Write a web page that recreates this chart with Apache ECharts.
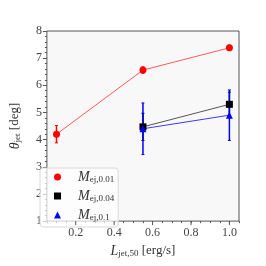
<!DOCTYPE html>
<html><head><meta charset="utf-8">
<script src="https://cdn.jsdelivr.net/npm/echarts@6/dist/echarts.min.js"></script>
<style>html,body{margin:0;padding:0;background:#fff}#c{width:266px;height:266px}</style>
</head><body><div id="c"></div>
<script>
// Data
const redX = [0.1, 0.55, 1.0];
const redY = [4.2, 6.56, 7.38];
const redErr = [0.32, 0.12, 0.1];
const blackX = [0.55, 1.0];
const blackY = [4.47, 5.3];
const blackErr = [0.5, 0.45];
const blueX = [0.55, 1.0];
const blueY = [4.4, 4.9];
const blueErr = [0.95, 0.93];
const xMajorTicks = [0.2, 0.4, 0.6, 0.8, 1.0];
const seriesNames = ['M01', 'M04', 'M1'];
const legendIcons = ['circle', 'rect', 'triangle'];
const legendSubs = {M01: 'ej,0.01', M04: 'ej,0.04', M1: 'ej,0.1'};

const FONT = 'Liberation Serif';
const chart = echarts.init(document.getElementById('c'), null, {renderer: 'canvas'});

function pts(xs, ys) { return xs.map((x, i) => [x, ys[i]]); }
function errData(xs, ys, es) { return xs.map((x, i) => [x, ys[i] - es[i], ys[i] + es[i]]); }
function errSeries(xs, ys, es, color) {
  return {
    type: 'custom', silent: true, z: 3,
    data: errData(xs, ys, es),
    encode: {x: 0, y: [1, 2]},
    renderItem: function (params, api) {
      const a = api.coord([api.value(0), api.value(1)]);
      const b = api.coord([api.value(0), api.value(2)]);
      return {type: 'group', children: [
        {type: 'line', shape: {x1: a[0], y1: a[1], x2: b[0], y2: b[1]}, style: {stroke: color, lineWidth: 1.5}},
        {type: 'line', shape: {x1: a[0] - 1.5, y1: a[1], x2: a[0] + 1.5, y2: a[1]}, style: {stroke: color, lineWidth: 1}},
        {type: 'line', shape: {x1: b[0] - 1.5, y1: b[1], x2: b[0] + 1.5, y2: b[1]}, style: {stroke: color, lineWidth: 1}}
      ]};
    }
  };
}
const richLabel = {
  i: {fontFamily: FONT, fontStyle: 'italic', fontSize: 14, lineHeight: 14, padding: [0, 0, 3, 0], verticalAlign: 'top', color: '#333'},
  s: {fontFamily: FONT, fontSize: 9, lineHeight: 9, verticalAlign: 'bottom', color: '#333'},
  n: {fontFamily: FONT, fontSize: 13, lineHeight: 13, padding: [0, 0, 3, 0], verticalAlign: 'top', color: '#333'}
};

const option = {
  backgroundColor: '#ffffff',
  animation: false,
  grid: {left: 33, right: 27, top: 31, bottom: 34, show: true, backgroundColor: '#f8f8f8', borderColor: '#555', borderWidth: 1},
  legend: {
    orient: 'vertical', left: 40, top: 168, itemGap: 2, itemWidth: 7, itemHeight: 7,
    padding: [2, 4, 2, 14],
    backgroundColor: 'rgba(255,255,255,0.7)', borderColor: '#d8d8d8', borderWidth: 1, borderRadius: 3,
    data: seriesNames.map((n, i) => ({name: n, icon: legendIcons[i]})),
    formatter: function (n) { return '{i|M}{s|' + legendSubs[n] + '}'; },
    textStyle: {
      padding: [0, 0, 0, 12],
      rich: richLabel
    }
  },
  xAxis: {
    type: 'value', min: 0.05, max: 1.05, interval: 0.05,
    name: '{i|L}{s|jet,50}{n| [erg/s]}', nameLocation: 'middle', nameGap: 17,
    nameTextStyle: {rich: richLabel},
    splitLine: {show: false},
    axisLine: {show: false},
    axisTick: {show: true, inside: false, length: 2, lineStyle: {color: '#555'}},
    axisLabel: {
      margin: 6, fontFamily: FONT, fontSize: 12, color: '#444', showMinLabel: true, showMaxLabel: true,
      formatter: function (v) {
        const r = v / 0.2;
        return Math.abs(r - Math.round(r)) < 1e-6 && v > 0.1 ? v.toFixed(1) : '';
      }
    }
  },
  yAxis: {
    type: 'value', min: 1, max: 8, interval: 1,
    name: '{i|θ}{s|jet}{n| [deg]}', nameLocation: 'middle', nameGap: 17, nameRotate: 90,
    nameTextStyle: {rich: richLabel},
    splitLine: {show: false},
    axisLine: {show: false},
    axisTick: {show: true, inside: false, length: 4, lineStyle: {color: '#555'}},
    minorTick: {show: true, splitNumber: 5, length: 2, lineStyle: {color: '#555'}},
    axisLabel: {margin: 5, fontFamily: FONT, fontSize: 12, color: '#444'}
  },
  series: [
    errSeries(redX, redY, redErr, '#ff0000'),
    {name: 'M01', type: 'line', data: pts(redX, redY), symbol: 'circle', symbolSize: 7,
      itemStyle: {color: '#ff0000'}, lineStyle: {color: '#ff5a5a', width: 1}, z: 4},
    errSeries(blackX, blackY, blackErr, '#000000'),
    {name: 'M04', type: 'line', data: pts(blackX, blackY), symbol: 'rect', symbolSize: 7,
      itemStyle: {color: '#000000'}, lineStyle: {color: '#555555', width: 1}, z: 4},
    errSeries(blueX, blueY, blueErr, '#0000ff'),
    {name: 'M1', type: 'line', data: pts(blueX, blueY), symbol: 'triangle', symbolSize: 7,
      itemStyle: {color: '#0000ff'}, lineStyle: {color: '#3a3aff', width: 1}, z: 4},
    {
      type: 'custom', silent: true, z: 5,
      data: xMajorTicks.map(v => [v, 1]),
      encode: {x: 0, y: 1},
      renderItem: function (params, api) {
        const p = api.coord([api.value(0), 1]);
        return {type: 'line', shape: {x1: p[0], y1: p[1], x2: p[0], y2: p[1] + 4}, style: {stroke: '#555', lineWidth: 1}};
      }
    }
  ]
};
chart.setOption(option);
</script></body></html>
